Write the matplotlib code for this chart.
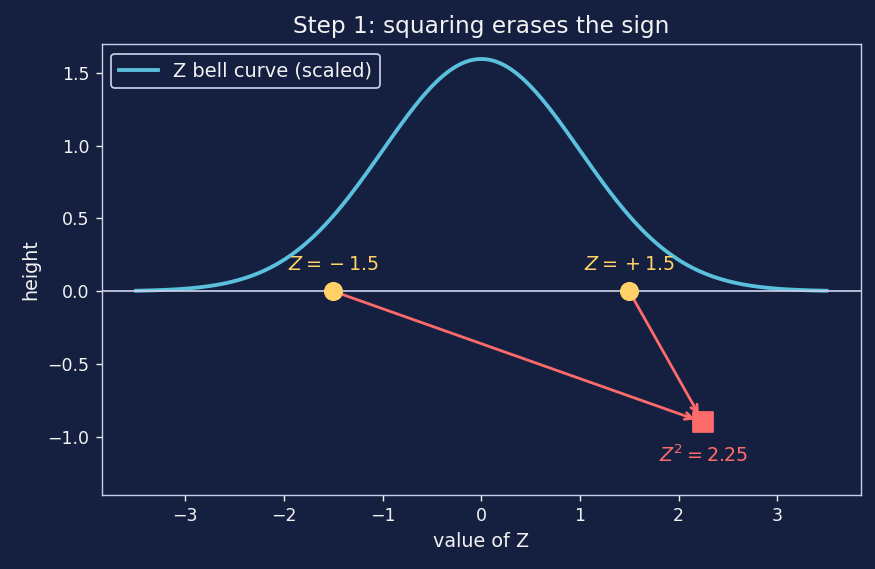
import numpy as np
import matplotlib
matplotlib.use("Agg")
import matplotlib.pyplot as plt

# chart values
z_points = [-1.5, 1.5]
z_labels = ["$Z = {}-1.5$", "$Z = {}+1.5$"]
z_squared = 2.25
square_y = -0.9
square_label = "$Z^2 = 2.25$"
curve_scale = 4.0
x_range = (-3.5, 3.5)

BG = "#152040"
FG = "#f2f2f2"
SPINE = "#c9cfe6"
CURVE = "#5bc0de"
DOT = "#ffd166"
RED = "#ff6b6b"

plt.rcParams["font.family"] = "DejaVu Sans"

fig, ax = plt.subplots(figsize=(7.0, 4.552), dpi=125)
fig.patch.set_facecolor(BG)
ax.set_facecolor(BG)

x = np.linspace(*x_range, 400)
y = curve_scale * np.exp(-x ** 2 / 2) / np.sqrt(2 * np.pi)
ax.plot(x, y, color=CURVE, lw=2.2, label="Z bell curve (scaled)")
ax.axhline(0, color=SPINE, lw=1)

for zx, lab in zip(z_points, z_labels):
    ax.annotate("", xy=(z_squared, square_y), xytext=(zx, 0),
                arrowprops=dict(arrowstyle="->", color=RED, lw=1.6,
                                shrinkA=0, shrinkB=5))
    ax.scatter([zx], [0], s=100, color=DOT, zorder=4)
    ax.text(zx, 0.12, lab, color=DOT, ha="center", va="bottom", fontsize=11)

ax.scatter([z_squared], [square_y], s=130, marker="s", color=RED, zorder=5)
ax.text(z_squared, -1.05, square_label, color=RED, ha="center", va="top", fontsize=11)

ax.set_ylim(-1.4, 1.7)
ax.set_title("Step 1: squaring erases the sign", color=FG, fontsize=13.4)
ax.set_xlabel("value of Z", color=FG, fontsize=11)
ax.set_ylabel("height", color=FG, fontsize=11)
ax.tick_params(colors=FG, labelsize=10)
for s in ax.spines.values():
    s.set_color(SPINE)

leg = ax.legend(loc="upper left", fontsize=11.2, facecolor=BG, edgecolor=SPINE, framealpha=1)
for t in leg.get_texts():
    t.set_color(FG)

fig.subplots_adjust(left=0.116, right=0.984, top=0.923, bottom=0.13)
fig.savefig("out.png", facecolor=BG, dpi=125)
